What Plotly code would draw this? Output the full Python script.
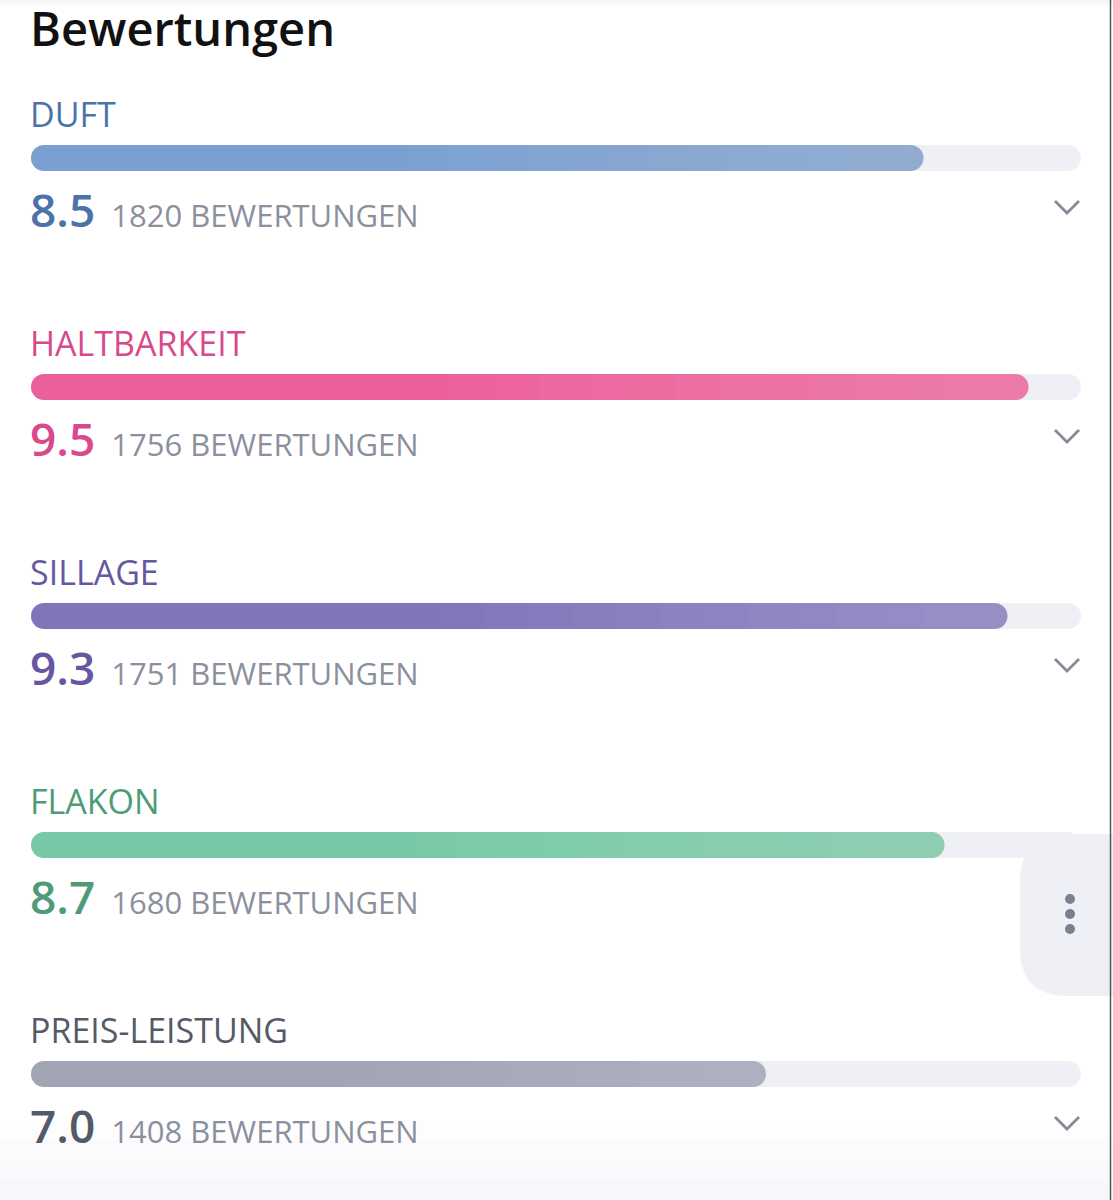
import plotly.graph_objects as go

# ---- data ----
categories = ["DUFT", "HALTBARKEIT", "SILLAGE", "FLAKON", "PREIS-LEISTUNG"]
scores = [8.5, 9.5, 9.3, 8.7, 7.0]
counts = [1820, 1756, 1751, 1680, 1408]
max_score = 10

# ---- styles ----
label_colors = ["#4b73a9", "#d84a8b", "#6657a1", "#4f9b79", "#545a67"]
bar_colors = ["#7aa0d1", "#ec5f9d", "#7f76ba", "#77c8a6", "#a0a4b3"]
track_color = "#eff0f5"
count_color = "#8b909e"
FONT = "Open Sans"

W, H = 1113, 1200
left_px, track_px = 31, 1050
ppu = track_px / max_score
row_px = 229
first_center = 158
bar_h = 26
bw = bar_h / row_px
zeros = [0] * len(categories)


def px_x(p):
    return p / W


def px_y(p):
    return 1 - p / H


fig = go.Figure()

# track
fig.add_trace(go.Bar(y=categories, x=[max_score] * len(categories), base=zeros, orientation="h",
                     marker=dict(color=track_color, line=dict(width=0)),
                     width=bw, hoverinfo="skip", showlegend=False))
# value bars
fig.add_trace(go.Bar(y=categories, x=scores, base=zeros, orientation="h",
                     marker=dict(color=bar_colors, line=dict(width=0)),
                     width=bw, showlegend=False,
                     hovertemplate="%{y}: %{x}<extra></extra>"))
# soft highlight toward the end of each bar (gradient look)
for k in range(12):
    frac = 0.42 + k * 0.045
    fig.add_trace(go.Bar(y=categories, x=[s * (1 - frac) for s in scores],
                         base=[s * frac for s in scores], orientation="h",
                         marker=dict(color="white", line=dict(width=0), cornerradius=0),
                         opacity=0.018, width=bw, hoverinfo="skip", showlegend=False))

annotations = [dict(text="Bewertungen", x=px_x(left_px), y=px_y(-6), xref="paper", yref="paper",
                    xanchor="left", yanchor="top", xshift=-3, showarrow=False,
                    font=dict(family=FONT, size=47, color="#111111", weight=600))]
shapes = []

# faint grey fade at the bottom of the screen
for y0 in (1120, 1140, 1160, 1180):
    shapes.append(dict(type="rect", xref="paper", yref="paper", x0=0, x1=1,
                       y0=0, y1=px_y(y0), fillcolor="#e9e9ee", opacity=0.08,
                       line=dict(width=0), layer="below"))
# faint shadow at the top
for y1 in (3, 6):
    shapes.append(dict(type="rect", xref="paper", yref="paper", x0=0, x1=1,
                       y0=px_y(y1), y1=1, fillcolor="#e6e6e8", opacity=0.2,
                       line=dict(width=0), layer="below"))

for i, (cat, s, c) in enumerate(zip(categories, scores, counts)):
    annotations.append(dict(text=cat, x=0, xref="x", y=cat, yref="y", xanchor="left",
                            yanchor="middle", yshift=44, xshift=-3, showarrow=False,
                            font=dict(family=FONT, size=34, color=label_colors[i])))
    annotations.append(dict(
        text=f"{s:.1f}<span style='font-size:31px;color:{count_color};font-weight:400'>&nbsp;&nbsp;{c} BEWERTUNGEN</span>",
        x=0, xref="x", y=cat, yref="y", xanchor="left", yanchor="middle", yshift=-51, xshift=-3,
        showarrow=False, font=dict(family=FONT, size=46, color=label_colors[i], weight=600)))
    if cat != "FLAKON":
        shapes.append(dict(type="path", xref="x", yref="y", xsizemode="pixel", ysizemode="pixel",
                           xanchor=max_score - 14 / ppu, yanchor=cat,
                           path="M -12,-43 L 0,-55 L 12,-43",
                           line=dict(color="#858a98", width=2.8)))

# floating menu button on the right
bx0, bx1, by0, by1, r = 1020, 1160, 834, 996, 48
path = (f"M {px_x(bx0 + r)},{px_y(by0)} L {px_x(bx1)},{px_y(by0)} L {px_x(bx1)},{px_y(by1)} "
        f"L {px_x(bx0 + r)},{px_y(by1)} Q {px_x(bx0)},{px_y(by1)} {px_x(bx0)},{px_y(by1 - r)} "
        f"L {px_x(bx0)},{px_y(by0 + r)} Q {px_x(bx0)},{px_y(by0)} {px_x(bx0 + r)},{px_y(by0)} Z")
shapes.append(dict(type="path", xref="paper", yref="paper", path=path,
                   fillcolor="#eff0f5", line=dict(width=0), layer="above"))
for dy in (899, 914, 929):
    shapes.append(dict(type="circle", xref="paper", yref="paper",
                       x0=px_x(1065), x1=px_x(1075), y0=px_y(dy - 5), y1=px_y(dy + 5),
                       fillcolor="#7b8091", line=dict(width=0), layer="above"))
# screenshot border on the right
shapes.append(dict(type="line", xref="paper", yref="paper", x0=px_x(1110.5), x1=px_x(1110.5),
                   y0=0, y1=1, line=dict(color="#555555", width=1.5), layer="above"))

fig.update_layout(
    width=W, height=H, margin=dict(l=0, r=0, t=0, b=0),
    paper_bgcolor="white", plot_bgcolor="white",
    barmode="overlay", barcornerradius=13,
    xaxis=dict(range=[-left_px / ppu, (W - left_px) / ppu], visible=False, fixedrange=True),
    yaxis=dict(type="category", categoryarray=categories,
               range=[(H - first_center) / row_px, -first_center / row_px],
               visible=False, fixedrange=True),
    annotations=annotations, shapes=shapes, showlegend=False,
)

fig.write_html("out.html", config={"displayModeBar": False})
